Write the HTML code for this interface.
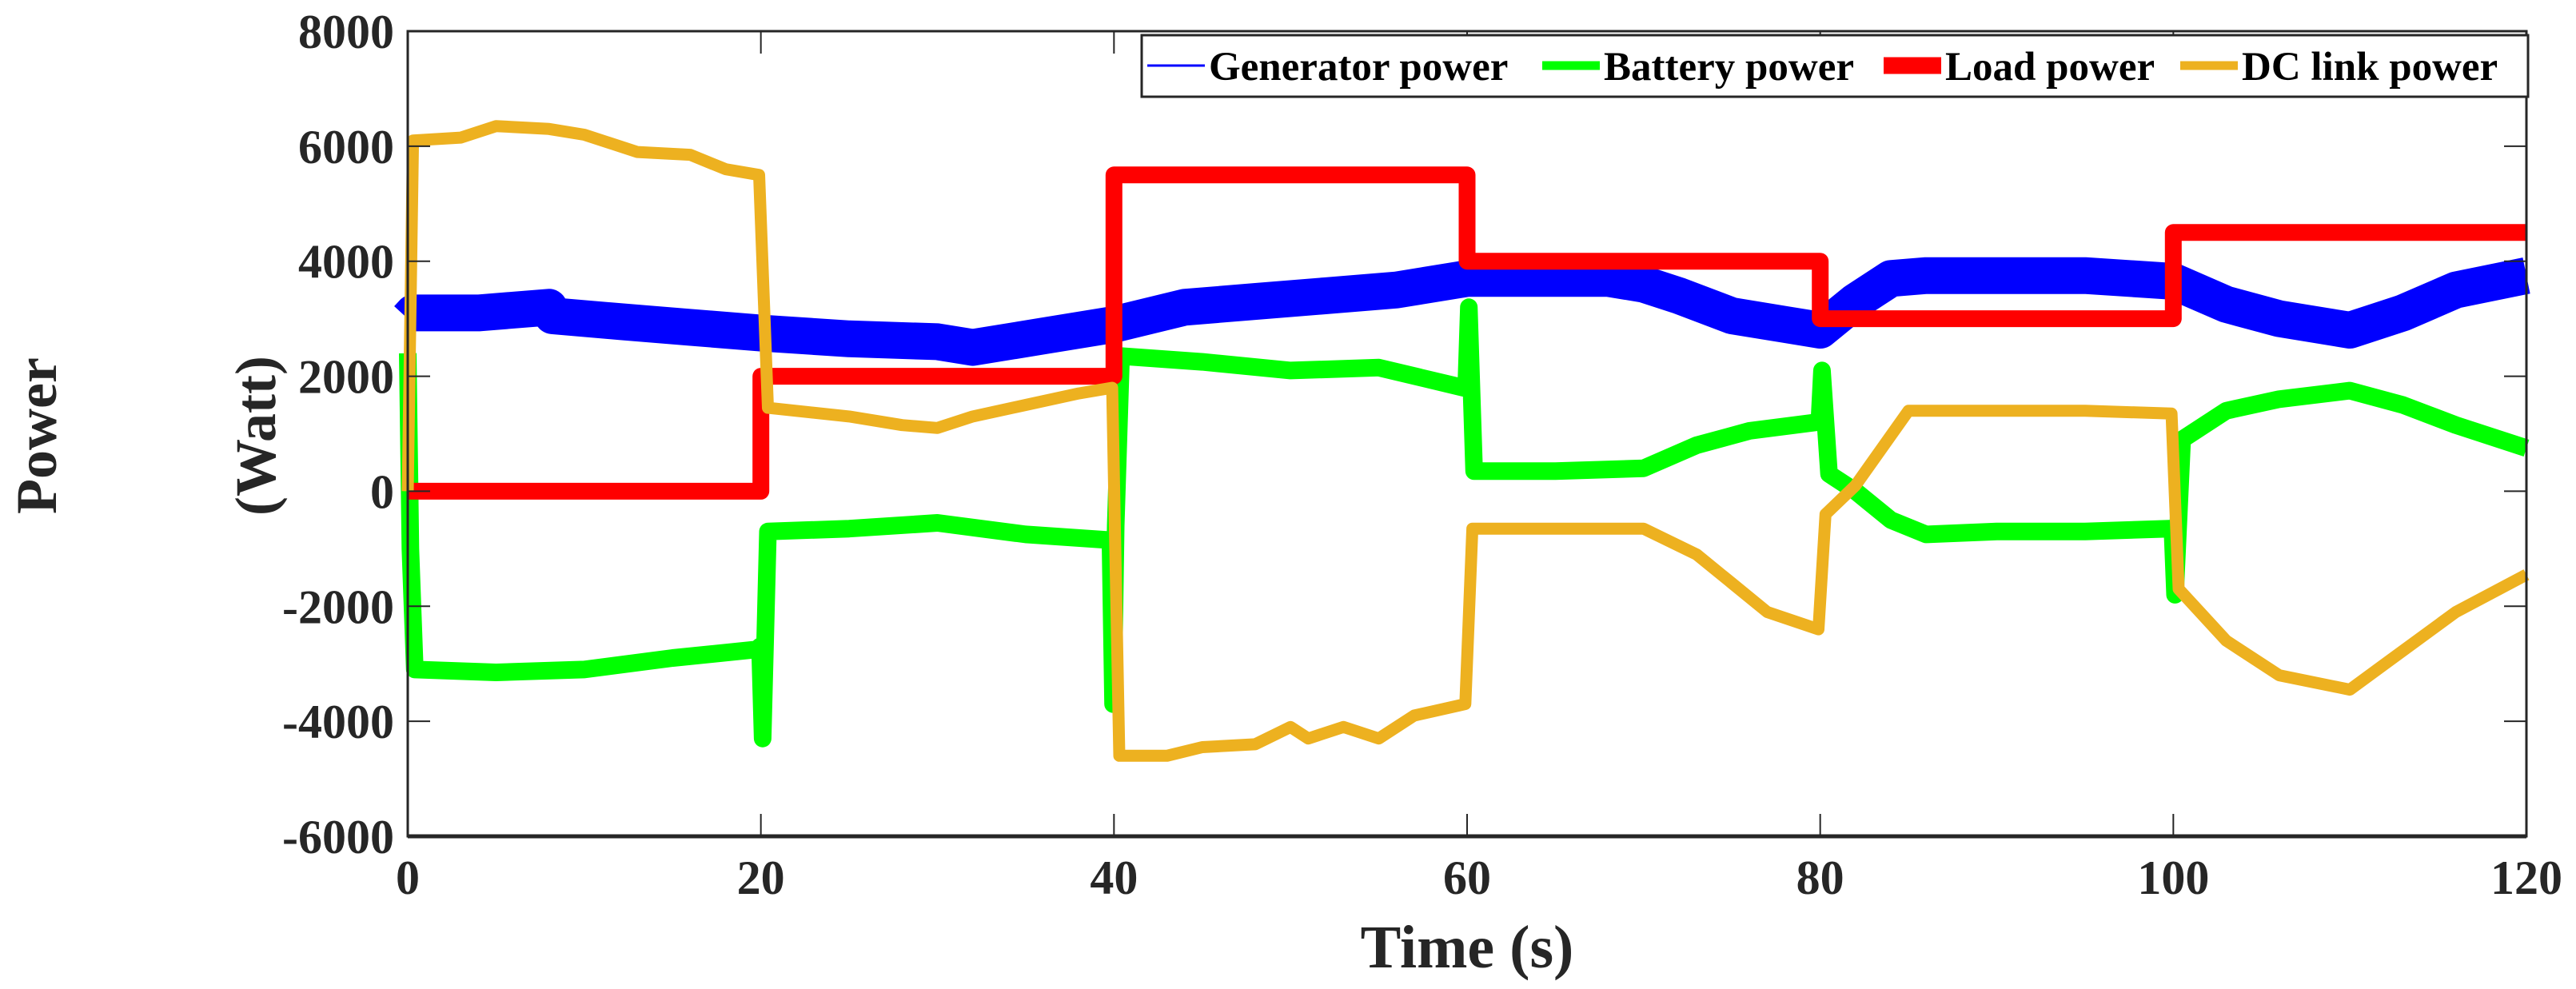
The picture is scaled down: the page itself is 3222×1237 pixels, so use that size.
<!DOCTYPE html>
<html><head><meta charset="utf-8"><style>
html,body{margin:0;padding:0;background:#fff;}
svg{display:block;}
svg text{font-family:"Liberation Serif","DejaVu Serif",serif;font-weight:bold;}
</style></head><body>
<svg id="chart" width="3222" height="1237" viewBox="0 0 3222 1237" xmlns="http://www.w3.org/2000/svg">
<g id="plot"></g>
<g id="axes"></g>
</svg>
<script>
const xTicks=[0,20,40,60,80,100,120];
const yTicks=[-6000,-4000,-2000,0,2000,4000,6000,8000];
const genT=[0,0.3,4,8,8.2,12,16,20,25,30,32,36,40,44,48,52,56,60,64,68,70,72,75,78,80,82,84,86,90,95,100,103,106,110,113,116,120];
const genV=[3000,3100,3100,3200,3050,2950,2850,2750,2650,2600,2500,2700,2900,3200,3300,3400,3500,3700,3700,3700,3600,3400,3050,2900,2800,3300,3700,3750,3750,3750,3650,3250,3000,2800,3100,3500,3750];
const batT=[0,0.15,0.4,5,10,15,19.8,19.95,20.1,20.4,25,30,35,39.8,39.95,40.1,40.4,45,50,55,59.8,59.95,60.1,60.4,65,70,73,76,79.8,79.95,80.1,80.5,82,84,86,90,95,99.8,99.95,100.1,100.5,103,106,110,113,116,120];
const batV=[2400,-1000,-3100,-3150,-3100,-2900,-2750,-2700,-4300,-700,-650,-550,-750,-850,-3700,-600,2350,2250,2100,2150,1800,1800,3200,350,350,400,800,1050,1200,1200,2100,300,0,-500,-750,-700,-700,-650,-650,-1800,900,1400,1600,1750,1500,1150,750];
const loadT=[0,20,20,40,40,60,60,80,80,100,100,120];
const loadV=[0,0,2000,2000,5500,5500,4000,4000,3000,3000,4500,4500];
const dcT=[0,0.3,3,5,8,10,13,16,18,19.9,20.4,25,28,30,32,35,38,39.9,40.3,43,45,48,50,51,53,55,57,59.9,60.3,65,70,73,75,77,79.9,80.3,82,85,90,95,99.9,100.3,103,106,110,112,116,120];
const dcV=[0,6100,6150,6350,6300,6200,5900,5850,5600,5500,1450,1300,1150,1100,1300,1500,1700,1800,-4600,-4600,-4450,-4400,-4100,-4300,-4100,-4300,-3900,-3700,-650,-650,-650,-1100,-1600,-2100,-2400,-400,100,1400,1400,1400,1350,-1700,-2600,-3200,-3450,-3000,-2100,-1450];

const X0=510,X1=3160,Y0=1046,Y1=39;
const xs=t=>X0+(t-0)/(120-0)*(X1-X0);
const ys=v=>Y0-(v+6000)/(14000)*(Y0-Y1);
const NS="http://www.w3.org/2000/svg";
const FONT='"Liberation Serif","DejaVu Serif",serif';
const plot=document.getElementById('plot'),axes=document.getElementById('axes');
function mk(tag,attrs,parent){const e=document.createElementNS(NS,tag);for(const k in attrs)e.setAttribute(k,attrs[k]);if(tag==='text'){e.setAttribute('font-family',FONT);e.setAttribute('font-weight','bold');}parent.appendChild(e);return e;}
function pathD(T,V){return T.map((t,i)=>(i?'L':'M')+xs(t).toFixed(1)+','+ys(V[i]).toFixed(1)).join(' ');}

let g=mk('path',{d:pathD(genT,genV),fill:'none',stroke:'#0000ff','stroke-width':46,'stroke-linejoin':'round'},plot);


let b=mk('path',{d:pathD(batT,batV),fill:'none',stroke:'#00ff00','stroke-width':22,'stroke-linejoin':'round'},plot);


let l=mk('path',{d:pathD(loadT,loadV),fill:'none',stroke:'#ff0000','stroke-width':21,'stroke-linejoin':'round'},plot);


let d=mk('path',{d:pathD(dcT,dcV),fill:'none',stroke:'#edb120','stroke-width':15,'stroke-linejoin':'round'},plot);



let frame=mk('rect',{x:X0,y:Y1,width:X1-X0,height:Y0-Y1,fill:'none',stroke:'#262626','stroke-width':3},axes);


mk('line',{x1:X0,y1:Y0,x2:X1,y2:Y0,stroke:'#262626','stroke-width':5},axes);
xTicks.forEach(t=>{
  mk('line',{x1:xs(t),y1:Y0,x2:xs(t),y2:Y0-28,stroke:'#262626','stroke-width':2},axes);
  mk('line',{x1:xs(t),y1:Y1,x2:xs(t),y2:Y1+28,stroke:'#262626','stroke-width':2},axes);
  let tx=mk('text',{x:xs(t),y:1118,'text-anchor':'middle','font-size':60,fill:'#262626'},axes);
  tx.textContent=t;
  
  
});
yTicks.forEach(v=>{
  mk('line',{x1:X0,y1:ys(v),x2:X0+28,y2:ys(v),stroke:'#262626','stroke-width':2},axes);
  mk('line',{x1:X1,y1:ys(v),x2:X1-28,y2:ys(v),stroke:'#262626','stroke-width':2},axes);
  let ty=mk('text',{x:493,y:ys(v)+21,'text-anchor':'end','font-size':60,fill:'#262626'},axes);
  ty.textContent=v;
  
  
});
let xt=mk('text',{x:xs(60),y:1210,'text-anchor':'middle','font-size':76,fill:'#262626'},axes);
xt.textContent='Time (s)';


let yt1=mk('text',{x:0,y:0,'text-anchor':'middle','font-size':72,fill:'#262626',transform:'translate(70,545) rotate(-90)'},axes);
yt1.textContent='Power';


let yt2=mk('text',{x:0,y:0,'text-anchor':'middle','font-size':72,fill:'#262626',transform:'translate(344,545) rotate(-90)'},axes);
yt2.textContent='(Watt)';



// legend
let lg=mk('g',{},axes);


mk('rect',{x:1428,y:44,width:1734,height:77,fill:'#fff',stroke:'#262626','stroke-width':3},lg);
const legNames=['Generator power','Battery power','Load power','DC link power'];
const legColors=['#0000ff','#00ff00','#ff0000','#edb120'];
const legW=[3,11,21,11];
const legX=[1435,1929,2356,2727];
legNames.forEach((n,i)=>{
  let e=mk('g',{},lg);
  
  
  mk('line',{x1:legX[i],y1:82,x2:legX[i]+72,y2:82,stroke:legColors[i],'stroke-width':legW[i]},e);
  let t=mk('text',{x:legX[i]+77,y:100,'font-size':51,fill:'#000'},e);
  t.textContent=n;
});
</script>
</body></html>
